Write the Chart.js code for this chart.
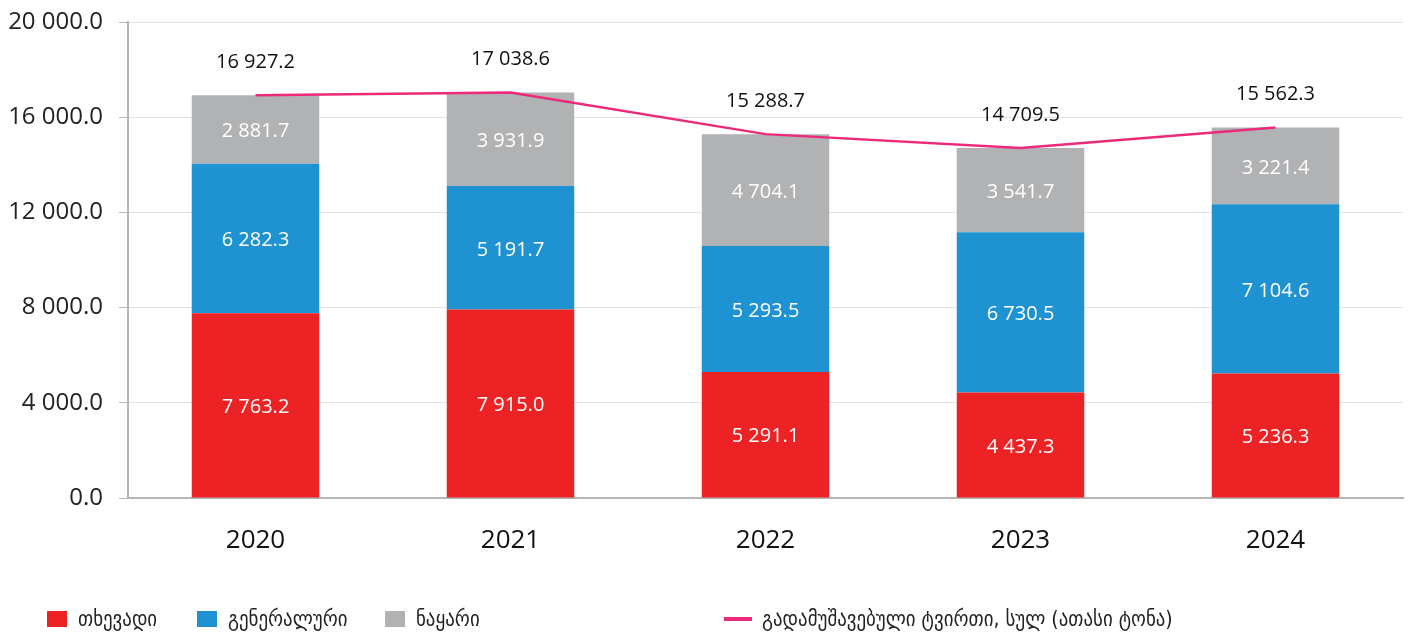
<!DOCTYPE html>
<html>
<head>
<meta charset="utf-8">
<script src="https://cdn.jsdelivr.net/npm/chart.js@4"></script>
<style>
  html, body { margin: 0; padding: 0; background: #fff; }
  #wrap { position: relative; width: 1410px; height: 635px; }
  #legend { position: absolute; left: 0; top: 603px; width: 1410px; height: 32px;
            font-family: "DejaVu Sans", "Noto Sans", sans-serif; font-size: 21px; color: #222; }
  .item { position: absolute; top: 0; display: flex; align-items: center; height: 32px; }
  .box { width: 20px; height: 16px; margin-right: 11px; }
  .ln { width: 28px; height: 4px; margin-right: 10px; }
  .txt { display: inline-block; transform: scaleX(0.9); transform-origin: left center; }
</style>
</head>
<body>
<div id="wrap">
  <canvas id="myChart" width="1410" height="635"></canvas>
  <div id="legend"></div>
</div>
<script>
const years = ['2020', '2021', '2022', '2023', '2024'];
const liquid = [7763.2, 7915.0, 5291.1, 4437.3, 5236.3];
const general = [6282.3, 5191.7, 5293.5, 6730.5, 7104.6];
const bulk = [2881.7, 3931.9, 4704.1, 3541.7, 3221.4];
const total = [16927.2, 17038.6, 15288.7, 14709.5, 15562.3];
const yTicks = [0, 4000, 8000, 12000, 16000, 20000];

const names = ['თხევადი', 'გენერალური', 'ნაყარი', 'გადამუშავებული ტვირთი, სულ (ათასი ტონა)'];
const colors = ['#ED2224', '#1F92D1', '#B1B2B4', '#EC297B'];

function fmt(v) {
    const s = v.toFixed(1);
    const parts = s.split('.');
    return parts[0].replace(/\B(?=(\d{3})+(?!\d))/g, ' ') + '.' + parts[1];
}

// labels on bars and above the line
const labelPlugin = {
    id: 'labels',
    afterDatasetsDraw(chart) {
        const ctx = chart.ctx;
        ctx.save();
        ctx.textAlign = 'center';
        ctx.textBaseline = 'middle';
        chart.data.datasets.forEach((ds, i) => {
            const meta = chart.getDatasetMeta(i);
            meta.data.forEach((el, j) => {
                if (ds.type === 'line') {
                    ctx.fillStyle = '#111';
                    ctx.font = '20px "Open Sans", "Noto Sans", sans-serif';
                    ctx.fillText(fmt(ds.data[j]), el.x, el.y - 33);
                } else {
                    ctx.fillStyle = '#fff';
                    ctx.font = '20px "Open Sans", "Noto Sans", sans-serif';
                    ctx.fillText(fmt(ds.data[j]), el.x, (el.y + el.base) / 2 + 2);
                }
            });
        });
        ctx.restore();
    }
};

const ctx = document.getElementById('myChart').getContext('2d');
const myChart = new Chart(ctx, {
    data: {
        labels: years,
        datasets: [
            {
                type: 'line',
                label: names[3],
                data: total,
                borderColor: colors[3],
                borderWidth: 2.5,
                pointRadius: 0,
                fill: false,
                tension: 0,
                order: 0
            },
            { type: 'bar', label: names[0], data: liquid, backgroundColor: colors[0], order: 1 },
            { type: 'bar', label: names[1], data: general, backgroundColor: colors[1], order: 1 },
            { type: 'bar', label: names[2], data: bulk, backgroundColor: colors[2], order: 1 }
        ]
    },
    options: {
        responsive: false,
        animation: false,
        datasets: {
            bar: { barPercentage: 0.5, categoryPercentage: 1.0 }
        },
        layout: { padding: { top: 22, right: 7, left: 0, bottom: 0 } },
        plugins: {
            legend: { display: false },
            tooltip: { enabled: false }
        },
        scales: {
            x: {
                stacked: true,
                grid: { display: false, drawTicks: false },
                border: { color: '#B5B5B5', width: 2 },
                ticks: {
                    color: '#111',
                    padding: 27,
                    font: { family: '"Open Sans", "Noto Sans", sans-serif', size: 26, weight: '500' }
                },
                afterFit(scale) {
                    scale.height = 137;
                    scale.paddingLeft = 0;
                    scale.paddingRight = 0;
                }
            },
            y: {
                stacked: true,
                min: 0,
                max: 20000,
                afterBuildTicks(scale) { scale.ticks = yTicks.map(v => ({ value: v })); },
                grid: { color: '#E3E3E3', lineWidth: 1, tickLength: 9, tickColor: '#B5B5B5' },
                border: { color: '#B5B5B5', width: 2 },
                ticks: {
                    color: '#222',
                    padding: 16,
                    font: { family: '"Open Sans", "Noto Sans", sans-serif', size: 24 },
                    callback: v => fmt(v)
                },
                afterFit(scale) {
                    scale.width = 128;
                    scale.paddingTop = 0;
                    scale.paddingBottom = 0;
                }
            }
        }
    },
    plugins: [labelPlugin]
});

// legend below the chart
const legend = document.getElementById('legend');
const lefts = [47, 197, 385, 724];
[0, 1, 2, 3].forEach(i => {
    const item = document.createElement('div');
    item.className = 'item';
    item.style.left = lefts[i] + 'px';
    const mark = document.createElement('span');
    mark.className = i === 3 ? 'ln' : 'box';
    mark.style.background = colors[i];
    const txt = document.createElement('span');
    txt.className = 'txt';
    txt.textContent = names[i];
    item.appendChild(mark);
    item.appendChild(txt);
    legend.appendChild(item);
});
</script>
</body>
</html>
